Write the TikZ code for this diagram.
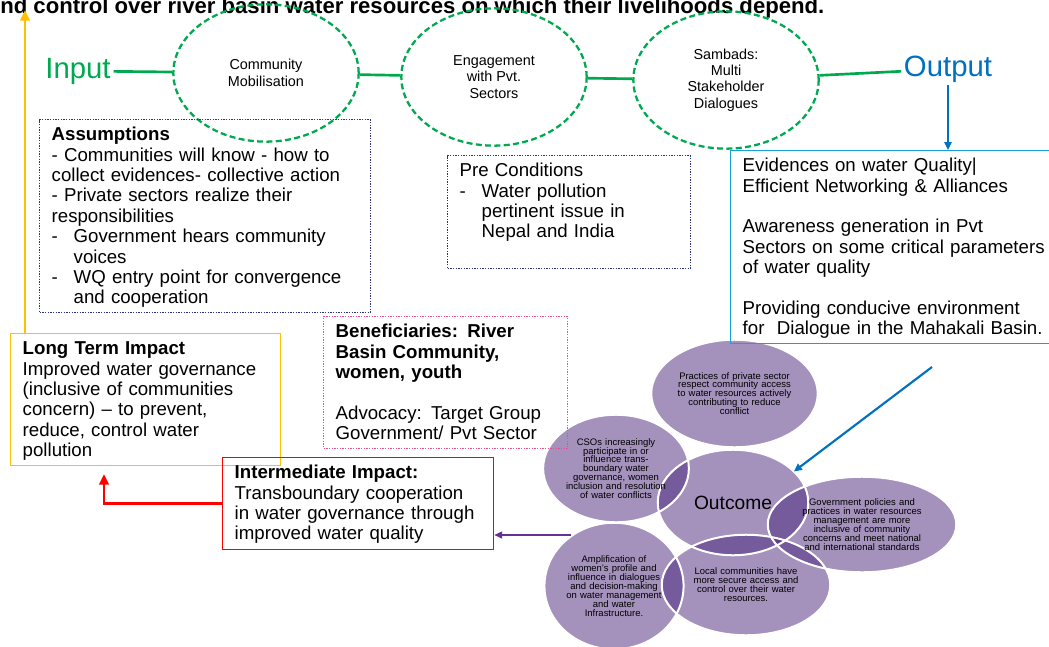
\documentclass[tikz,border=0pt]{standalone}
\usepackage{fontspec}
\setmainfont{Liberation Sans}
\usepackage{xcolor}
\usepackage{tikz}
\usetikzlibrary{shapes.geometric,arrows.meta,calc}
\pgfdeclarelayer{background}
\pgfsetlayers{background,main}

\definecolor{grn}{RGB}{0,168,80}
\definecolor{outblue}{RGB}{0,112,192}
\definecolor{boxblue}{RGB}{20,160,225}
\definecolor{navy}{RGB}{40,50,120}
\definecolor{gold}{RGB}{255,192,0}
\definecolor{pinkdot}{RGB}{225,80,150}
\definecolor{plum}{RGB}{73,37,123}
\definecolor{arrpurple}{RGB}{100,50,150}

\newcommand{\bodyfont}{\fontsize{14}{15.3}\selectfont}
\newcommand{\dashitem}{\makebox[16.5pt][l]{-}}
\newcommand{\hangin}{\hspace*{16.5pt}}

\tikzset{stage/.style={ellipse,draw=grn,dash pattern=on 4.5pt off 2.5pt,line width=1.7pt,inner sep=0pt,minimum width=139pt,minimum height=103pt,align=center,font=\fontsize{10.8}{12.3}\selectfont}}
\tikzset{textbox/.style={anchor=north west,inner xsep=9pt,inner ysep=3.75pt,text height=12pt,align=left,font=\bodyfont}}
\tikzset{petal/.style={ellipse,inner sep=0pt,align=center,font=\fontsize{7.1}{6.7}\selectfont}}
\tikzset{flow/.style={grn,line width=2pt}}

\begin{document}
\begin{tikzpicture}[x=0.75pt,y=-0.75pt,>={Triangle[length=8pt,width=7pt]}]
    \useasboundingbox (0,0) rectangle (1049,646);

    % goal line, cut at the top
    \node[anchor=base west,inner sep=0pt,font=\fontsize{16.6}{18}\selectfont\bfseries] (goaltext) at (0,13) {nd control over river basin water resources on which their livelihoods depend.};

    % activities chain
    \node[grn,inner sep=2pt,font=\fontsize{22}{22}\selectfont] (input) at (78,71) {Input};
    \node[stage] (mobil) at (266,73) {Community\\Mobilisation};
    \node[stage] (engage) at (494,77) {Engagement\\with Pvt.\\Sectors};
    \node[stage] (sambad) at (726,80) {Sambads:\\Multi\\Stakeholder\\Dialogues};
    \node[outblue,inner sep=2pt,font=\fontsize{22}{22}\selectfont] (output) at (948,69) {Output};

    \draw [flow] (input) -- (mobil);
    \draw [flow] (mobil) -- (engage);
    \draw [flow] (engage) -- (sambad);
    \draw [flow] (sambad) -- (output);

    % text boxes
    \node[textbox,draw=navy,densely dotted,line width=1pt,text width=230pt] (assume) at (39,119) {\textbf{Assumptions}\\- Communities will know -\ how to\\collect evidences- collective action\\- Private sectors realize their\\responsibilities\\\dashitem Government hears community\\\hangin voices\\\dashitem WQ entry point for convergence\\\hangin and cooperation};
    \node[textbox,draw=navy,densely dotted,line width=1pt,text width=164pt,text depth=65.25pt] (precond) at (447,155) {Pre Conditions\\\dashitem Water pollution\\\hangin pertinent issue in\\\hangin Nepal and India};
    \node[textbox,draw=boxblue,line width=1.1pt,text width=250pt,text depth=125.25pt] (outbox) at (730,150) {Evidences on water Quality|\\Efficient Networking \& Alliances\\[15.3pt]Awareness generation in Pvt\\Sectors on some critical parameters\\of water quality\\[15.3pt]Providing conducive environment\\for\ \ Dialogue in the Mahakali Basin.};
    \node[textbox,draw=gold,line width=1.1pt,text width=184.5pt,text depth=79.5pt] (ltimpact) at (10,333) {\textbf{Long Term Impact}\\Improved water governance\\(inclusive of communities\\concern) – to prevent,\\reduce, control water\\pollution};
    \node[textbox,draw=pinkdot,densely dotted,line width=1pt,text width=165pt,text depth=79.5pt] (benef) at (323,316) {\textbf{Beneficiaries: River}\\\textbf{Basin Community,}\\\textbf{women, youth}\\[15.3pt]Advocacy: Target Group\\Government/ Pvt Sector};
    \node[textbox,draw=red,line width=1.1pt,text width=185pt,text depth=49.5pt] (intimpact) at (222,457) {\textbf{Intermediate Impact:}\\Transboundary cooperation\\in water governance through\\improved water quality};

    % outcome cluster
    \node[petal,minimum width=123.75pt,minimum height=80.25pt,text width=88pt] (pract) at (734.5,393.5) {Practices of private sector\\respect community access\\to water resources actively\\contributing to reduce\\conflict};
    \node[petal,minimum width=106.5pt,minimum height=80.25pt,text width=77pt] (csos) at (616,468.5) {CSOs increasingly\\participate in or\\influence trans-\\boundary water\\governance, women\\inclusion and resolution\\of water conflicts};
    \node[petal,minimum width=112.5pt,minimum height=78.75pt,font=\fontsize{14.4}{16}\selectfont] (outcome) at (733,502.5) {Outcome};
    \node[petal,minimum width=141pt,minimum height=71.25pt,text width=94pt] (govt) at (862,524.5) {Government policies and\\practices in water resources\\management are more\\inclusive of community\\concerns and meet national\\and international standards};
    \node[petal,minimum width=103.5pt,minimum height=94.5pt,text width=73.5pt] (ampl) at (614,586) {Amplification of\\women's profile and\\influence in dialogues\\and decision-making\\on water management\\and water\\Infrastructure.};
    \node[petal,minimum width=126pt,minimum height=75pt,text width=83pt] (local) at (746,585) {Local communities have\\more secure access and\\control over their water\\resources.};

    \begin{pgfonlayer}{background}
        \foreach \pet in {pract,csos,outcome,govt,ampl,local}
            \fill[plum,fill opacity=0.5] let \p1=(\pet.east), \p2=(\pet.north), \p3=(\pet.center) in (\p3) ellipse ({\x1-\x3} and {\y2-\y3});
        \foreach \pet in {pract,csos,outcome,govt,ampl,local}
            \draw[white,line width=1.5pt] let \p1=(\pet.east), \p2=(\pet.north), \p3=(\pet.center) in (\p3) ellipse ({\x1-\x3} and {\y2-\y3});
    \end{pgfonlayer}

    % arrows
    \coordinate (goal) at (25,10);
    \coordinate (ltarrow) at (104,474);
    \coordinate (ampin) at (571,535);
    \coordinate (outtail) at (932,367);

    \draw [gold,line width=2.2pt,->] (ltimpact.north -| goal) -- (goal);
    \draw [red,line width=2.2pt,->] (intimpact.west) -| (ltarrow);
    \draw [arrpurple,line width=1.5pt,-{Triangle[length=6pt,width=5pt]}] (ampin) -- (intimpact.east |- ampin);
    \draw [outblue,line width=1.6pt,-{Triangle[length=6pt,width=5.5pt]}] (outtail) -- (outcome.27);
    \draw [outblue,line width=1.6pt,-{Triangle[length=6pt,width=5.5pt]}] (output) -- (output |- outbox.north);
\end{tikzpicture}
\end{document}
